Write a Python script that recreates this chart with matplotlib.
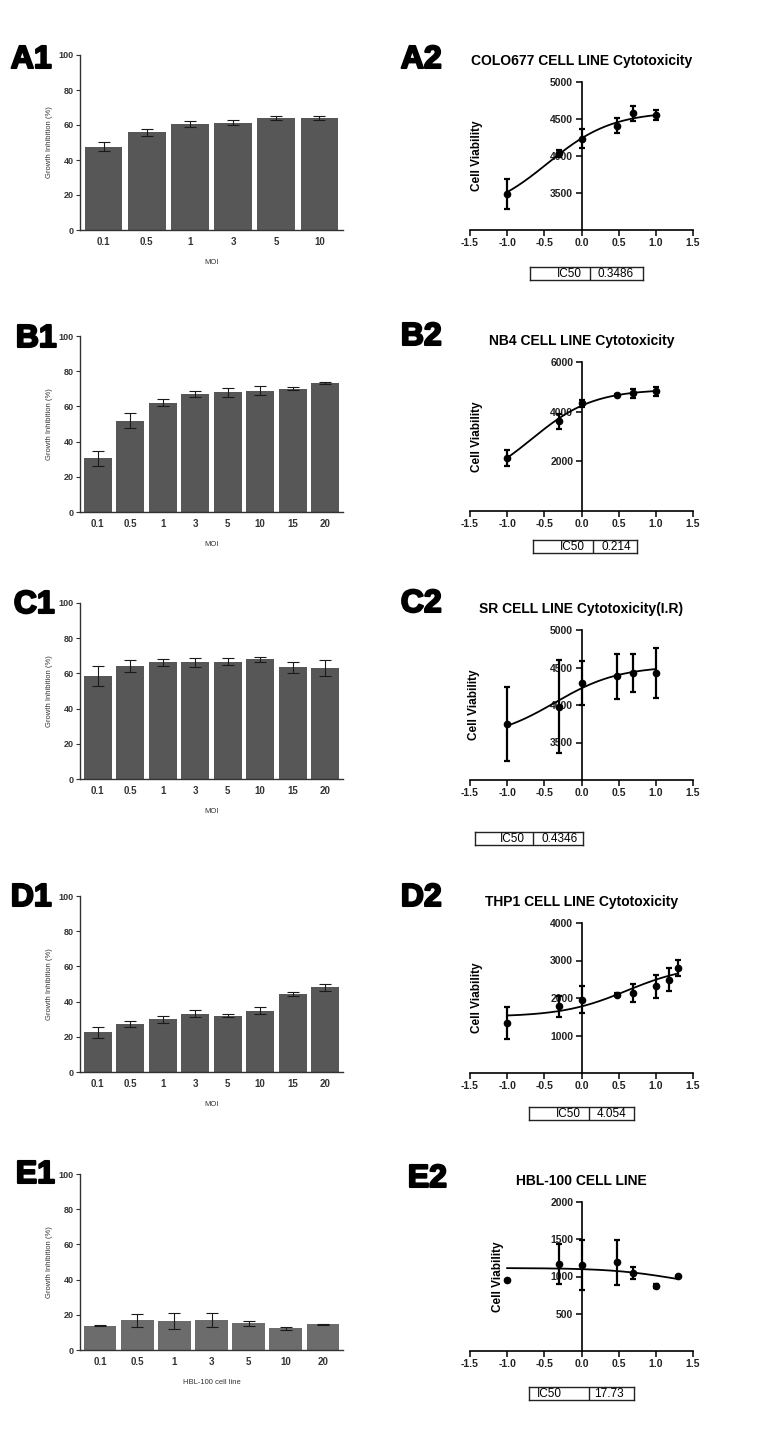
import matplotlib
matplotlib.use("Agg")
import matplotlib.pyplot as plt
from matplotlib.font_manager import FontProperties
from matplotlib.patches import PathPatch
from matplotlib.textpath import TextPath
from matplotlib.transforms import Affine2D
import numpy as np

plt.rcParams["font.family"] = ["Liberation Sans", "DejaVu Sans"]
plt.rcParams["axes.unicode_minus"] = False

# ---- left column: growth inhibition (%) per MOI ----
moi_6 = ["0.1", "0.5", "1", "3", "5", "10"]
moi_8 = ["0.1", "0.5", "1", "3", "5", "10", "15", "20"]
moi_7 = ["0.1", "0.5", "1", "3", "5", "10", "20"]

gi_a = [47.6, 55.8, 60.6, 61.4, 63.9, 63.9]
gi_a_sd = [2.5, 2.0, 1.5, 1.4, 1.2, 1.2]
gi_b = [30.4, 51.8, 62.2, 67.1, 68.0, 68.9, 70.1, 73.4]
gi_b_sd = [4.3, 4.3, 2.0, 1.6, 2.5, 2.6, 0.9, 0.6]
gi_c = [58.5, 64.2, 66.2, 66.4, 66.7, 67.9, 63.4, 63.2]
gi_c_sd = [5.7, 3.6, 2.0, 2.5, 2.1, 1.2, 3.1, 4.5]
gi_d = [22.6, 27.3, 30.0, 33.1, 32.1, 34.9, 44.3, 48.1]
gi_d_sd = [3.1, 1.8, 1.9, 1.9, 0.8, 2.2, 1.2, 1.8]
gi_e = [13.7, 16.8, 16.3, 17.1, 15.1, 12.3, 14.5]
gi_e_sd = [0.3, 3.9, 4.6, 4.0, 1.3, 0.8, 0.3]

# ---- right column: cell viability vs log10(MOI) ----
log_6 = [-1.0, -0.301, 0.0, 0.477, 0.699, 1.0]
log_8 = [-1.0, -0.301, 0.0, 0.477, 0.699, 1.0, 1.176, 1.301]
log_7 = [-1.0, -0.301, 0.0, 0.477, 0.699, 1.0, 1.301]

cv_a = [3490, 4035, 4235, 4410, 4575, 4552]
cv_a_sd = [200, 45, 125, 100, 100, 65]
cv_b = [2120, 3610, 4330, 4690, 4740, 4830]
cv_b_sd = [320, 300, 150, 40, 170, 180]
cv_c = [3745, 3975, 4290, 4385, 4425, 4425]
cv_c_sd = [490, 620, 295, 300, 250, 335]
cv_d = [1330, 1775, 1955, 2085, 2130, 2310, 2490, 2800]
cv_d_sd = [430, 290, 355, 40, 245, 310, 315, 215]
cv_e = [955, 1170, 1150, 1190, 1045, 875, 1010]
cv_e_sd = [0, 270, 335, 300, 78, 25, 0]

# fitted dose-response curves: bottom, top, IC50, hill slope
fit_bottom = [3200, 900, 3540, 1500, 834]
fit_top = [4600, 4900, 4520, 2890, 1114]
ic50 = [0.3486, 0.214, 0.4346, 4.054, 17.73]
ic50_text = ["0.3486", "0.214", "0.4346", "4.054", "17.73"]
hill = [1.0, 1.05, 1.0, 1.0, -1.0]

titles = ["COLO677 CELL LINE Cytotoxicity", "NB4 CELL LINE Cytotoxicity",
          "SR CELL LINE Cytotoxicity(I.R)", "THP1 CELL LINE Cytotoxicity",
          "HBL-100 CELL LINE"]
bar_xlabels = ["MOI", "MOI", "MOI", "MOI", "HBL-100 cell line"]

bars = [(moi_6, gi_a, gi_a_sd), (moi_8, gi_b, gi_b_sd), (moi_8, gi_c, gi_c_sd),
        (moi_8, gi_d, gi_d_sd), (moi_7, gi_e, gi_e_sd)]
curves = [(log_6, cv_a, cv_a_sd), (log_6, cv_b, cv_b_sd), (log_6, cv_c, cv_c_sd),
          (log_8, cv_d, cv_d_sd), (log_7, cv_e, cv_e_sd)]
ylims = [(3000, 5000), (0, 6000), (3000, 5000), (0, 4000), (0, 2000)]
yticks = [[3500, 4000, 4500, 5000], [2000, 4000, 6000], [3500, 4000, 4500, 5000],
          [1000, 2000, 3000, 4000], [500, 1000, 1500, 2000]]

# layout in pixels of the 782x1429 figure
W, H = 782, 1429
bar_rows = [(55, 230), (336, 512), (603, 779), (896, 1072), (1174, 1350)]
curve_rows = [(82, 230), (362, 511), (630, 780), (923, 1073), (1202, 1351)]
ylabel_x = [478, 478, 475, 478, 499]
# IC50 box: left, divider, right, top
boxes = [(530, 590, 643, 267), (533, 593, 637, 540), (475, 533, 583, 832),
         (529, 589, 634, 1107), (529, 589, 634, 1387)]
panel_labels = [("A1", 10, 68), ("A2", 400, 68), ("B1", 15, 347), ("B2", 400, 345),
                ("C1", 13, 613), ("C2", 400, 612), ("D1", 10, 906), ("D2", 400, 906),
                ("E1", 15, 1183), ("E2", 407, 1187)]


def px_rect(l, t, r, b):
    return [l / W, 1 - b / H, (r - l) / W, (b - t) / H]


fig = plt.figure(figsize=(W / 100, H / 100), dpi=100)

for i in range(5):
    # bar chart
    cats, vals, sd = bars[i]
    t, b = bar_rows[i]
    ax = fig.add_axes(px_rect(80, t, 343, b))
    x = np.arange(len(cats))
    color = "#6c6c6c" if i == 4 else "#575757"
    ax.bar(x, vals, width=0.87, color=color, yerr=sd, capsize=4.5,
           error_kw=dict(elinewidth=0.8, capthick=0.8, ecolor="#1a1a1a"))
    ax.set_xlim(-0.55, len(cats) - 0.45)
    ax.set_ylim(0, 100)
    ax.set_yticks(range(0, 101, 20))
    ax.set_xticks(x)
    ax.set_xticklabels(cats)
    for s in ["top", "right"]:
        ax.spines[s].set_visible(False)
    for s in ["left", "bottom"]:
        ax.spines[s].set_color("#333333")
        ax.spines[s].set_linewidth(1.0)
    ax.tick_params(axis="x", length=0, pad=5, labelsize=7, labelcolor="#333333")
    ax.tick_params(axis="y", length=3, width=0.8, color="#333333", pad=1.5,
                   labelsize=6.5, labelcolor="#333333")
    for lab in ax.get_xticklabels() + ax.get_yticklabels():
        lab.set_fontweight("bold")
    ax.set_ylabel("Growth Inhibition (%)", fontsize=5.5, color="#333333", labelpad=4)
    ax.set_xlabel(bar_xlabels[i], fontsize=5.5, color="#333333", labelpad=9)

    # dose-response chart
    lx, ly, lsd = curves[i]
    t, b = curve_rows[i]
    ax = fig.add_axes(px_rect(470, t, 693, b))
    ax.errorbar(lx, ly, yerr=lsd, fmt="o", color="black", ms=4.5,
                elinewidth=1.6, capsize=2.5, capthick=1.6)
    xs = np.linspace(lx[0], lx[-1], 200)
    ys = fit_bottom[i] + (fit_top[i] - fit_bottom[i]) / (
        1 + 10 ** ((np.log10(ic50[i]) - xs) * hill[i]))
    ax.plot(xs, ys, color="black", lw=1.3)
    ax.set_xlim(-1.5, 1.5)
    ax.set_ylim(*ylims[i])
    ax.set_xticks(np.arange(-1.5, 1.51, 0.5))
    ax.set_xticklabels([f"{v:.1f}" for v in np.arange(-1.5, 1.51, 0.5)])
    ax.set_yticks(yticks[i])
    ax.spines["left"].set_position(("data", 0))
    for s in ["top", "right"]:
        ax.spines[s].set_visible(False)
    for s in ["left", "bottom"]:
        ax.spines[s].set_linewidth(1.2)
    ax.tick_params(axis="both", length=4, width=1.1, pad=2, labelsize=7.5,
                   labelcolor="#222222")
    for lab in ax.get_xticklabels() + ax.get_yticklabels():
        lab.set_fontweight("bold")
    ax.set_title(titles[i], fontsize=10, fontweight="bold", pad=12)
    ax.set_ylabel("Cell Viability", fontsize=8.5, fontweight="bold")
    ax.yaxis.set_label_coords((ylabel_x[i] + 5 - 470) / 223, 0.5)

    # IC50 box
    bl, bd, br, bt = boxes[i]
    bx = fig.add_axes(px_rect(bl, bt, br, bt + 13))
    bx.set_xlim(bl, br)
    bx.set_ylim(0, 1)
    bx.set_xticks([])
    bx.set_yticks([])
    for s in bx.spines.values():
        s.set_linewidth(1.0)
        s.set_color("#222222")
    bx.axvline(bd, color="#222222", lw=1.0)
    if i == 4:
        bx.text(bl + 8, 0.45, "IC50", ha="left", va="center", fontsize=8.5)
        bx.text(bd + 5, 0.45, ic50_text[i], ha="left", va="center", fontsize=8.5)
    else:
        bx.text(bd - 8, 0.45, "IC50", ha="right", va="center", fontsize=8.5)
        bx.text(bd + 8, 0.45, ic50_text[i], ha="left", va="center", fontsize=8.5)

# heavy panel letters, drawn as filled + stroked glyph outlines (size in pixels)
label_font = FontProperties(family="Liberation Sans", weight="bold")
for name, px, py in panel_labels:
    path = TextPath((0, 0), name, size=32, prop=label_font)
    tr = Affine2D().translate(px + 0.8, H - py)
    fig.add_artist(PathPatch(path, transform=tr, facecolor="black",
                             edgecolor="black", lw=1.5, joinstyle="round"))

fig.savefig("out.png", dpi=100)
